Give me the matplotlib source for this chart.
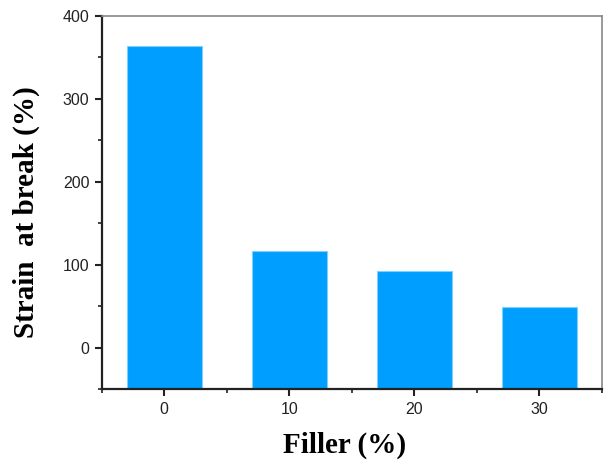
import numpy as np
import matplotlib.pyplot as plt
from matplotlib.ticker import MultipleLocator

# data
filler = ["0", "10", "20", "30"]
strain = [364, 116, 92, 49]
y_floor = -50

bar_color = "#009FFF"
edge_color = "#7FD0FF"

plt.rcParams["font.family"] = ["Liberation Sans", "DejaVu Sans"]

fig = plt.figure(figsize=(6.06, 4.62), dpi=100)
ax = fig.add_axes([0.168, 0.158, 0.825, 0.808])

x = np.arange(len(filler))
heights = np.array(strain) - y_floor
ax.bar(x, heights, bottom=y_floor, width=0.6, color=bar_color,
       edgecolor=edge_color, linewidth=0.8, zorder=2)

ax.set_xlim(-0.5, len(filler) - 0.5)
ax.set_ylim(y_floor, 400)
ax.set_xticks(x)
ax.set_xticklabels(filler)
ax.xaxis.set_minor_locator(MultipleLocator(0.5))
ax.yaxis.set_major_locator(MultipleLocator(100))
ax.yaxis.set_minor_locator(MultipleLocator(50))

for spine in ["left", "bottom"]:
    ax.spines[spine].set_linewidth(1.6)
    ax.spines[spine].set_color("#222222")
for spine in ["top", "right"]:
    ax.spines[spine].set_linewidth(1.2)
    ax.spines[spine].set_color("#888888")

ax.tick_params(axis="both", which="major", direction="out", length=5,
               width=1.5, labelsize=11.5, pad=4, color="#222222",
               labelcolor="#222222")
ax.tick_params(axis="both", which="minor", direction="out", length=3,
               width=1.2, color="#222222")

ax.set_xlabel("Filler (%)", fontfamily="Liberation Serif", fontweight="bold",
              fontsize=21)
ax.set_ylabel("Strain  at break (%)", fontfamily="Liberation Serif",
              fontweight="bold", fontsize=21)
# nudge labels to where the original sits
ax.xaxis.set_label_coords(0.486, -0.115)
ax.yaxis.set_label_coords(-0.124, 0.475)

fig.savefig("out.png", dpi=100)
